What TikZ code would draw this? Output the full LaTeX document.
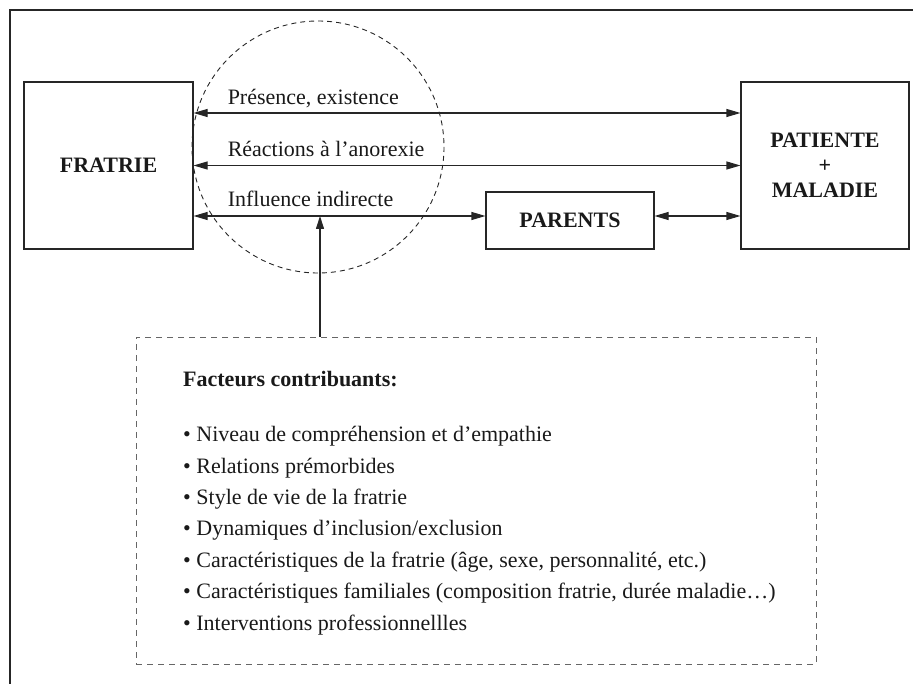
\documentclass[tikz,border=0pt]{standalone}
\usepackage{fontspec}
\setmainfont{Liberation Serif}
\usepackage{xcolor}
\usepackage{tikz}
\usetikzlibrary{arrows.meta}

\tikzset{
  boite/.style={draw=black!85, line width=1.1pt, inner sep=0pt, text=black!90,
    font=\fontsize{22pt}{25pt}\selectfont\bfseries, align=center},
  lbl/.style={inner sep=0pt, text=black!90, font=\fontsize{22pt}{25pt}\selectfont},
  fleche/.style={draw=black!85, line width=1.1pt,
    {Triangle[length=14pt,width=8pt]}-{Triangle[length=14pt,width=8pt]}},
}

\begin{document}
\begin{tikzpicture}[x=1pt,y=-1pt]
        \useasboundingbox (0,0) rectangle (913,684);
        %cadre exterieur
        \draw[line width=1.6pt, black!85] (10,684) |- (913,10);
        %les boites
        \node[boite, minimum width=169pt, minimum height=167pt] (fratrie) at (108.5,165.5) {FRATRIE};
        \node[boite, minimum width=168pt, minimum height=167pt] (patiente) at (825,165.5)
                {PATIENTE\\+\\MALADIE};
        \node[boite, minimum width=168pt, minimum height=57pt] (parents) at (570,220.5) {PARENTS};
        %cercle en pointilles
        \draw[black!85, line width=0.9pt, dash pattern=on 5pt off 4pt] (318,147) circle (126);
        %fleches
        \draw[fleche] ([yshift=52.5pt]fratrie.east) coordinate (p1) -- ([yshift=52.5pt]patiente.west);
        \draw[fleche] (fratrie.east) coordinate (p2) -- (patiente.west);
        \draw[fleche] ([yshift=-50.5pt]fratrie.east) coordinate (p3) -- ([yshift=4.5pt]parents.west);
        \draw[fleche] ([yshift=4.5pt]parents.east) -- ([yshift=-50.5pt]patiente.west);
        \node[lbl, anchor=base west] (l1) at ([xshift=34pt,yshift=8pt]p1) {Présence, existence};
        \node[lbl, anchor=base west] (l2) at ([xshift=34pt,yshift=9pt]p2) {Réactions à l’anorexie};
        \node[lbl, anchor=base west] (l3) at ([xshift=34pt,yshift=9pt]p3) {Influence indirecte};
        %facteurs contribuants
        \node[draw=black!60, line width=0.9pt, dash pattern=on 6pt off 5pt,
                minimum width=680pt, minimum height=327pt, inner sep=0pt] (cadre) at (476,500.5) {};
        \node[lbl, anchor=base west, align=left, font=\fontsize{22pt}{31.4pt}\selectfont] (facteurs) at (183,630)
                {\textbf{Facteurs contribuants:}\\[23.6pt]
                • Niveau de compréhension et d’empathie\\
                • Relations prémorbides\\
                • Style de vie de la fratrie\\
                • Dynamiques d’inclusion/exclusion\\
                • Caractéristiques de la fratrie (âge, sexe, personnalité, etc.)\\
                • Caractéristiques familiales (composition fratrie, durée maladie…)\\
                • Interventions professionnellles};
        \coordinate (pied) at ([xshift=-156pt]cadre.north);
        \draw[draw=black!85, line width=1.1pt, -{Triangle[length=13pt,width=8pt]}] (pied) -- (pied |- p3);
\end{tikzpicture}
\end{document}
